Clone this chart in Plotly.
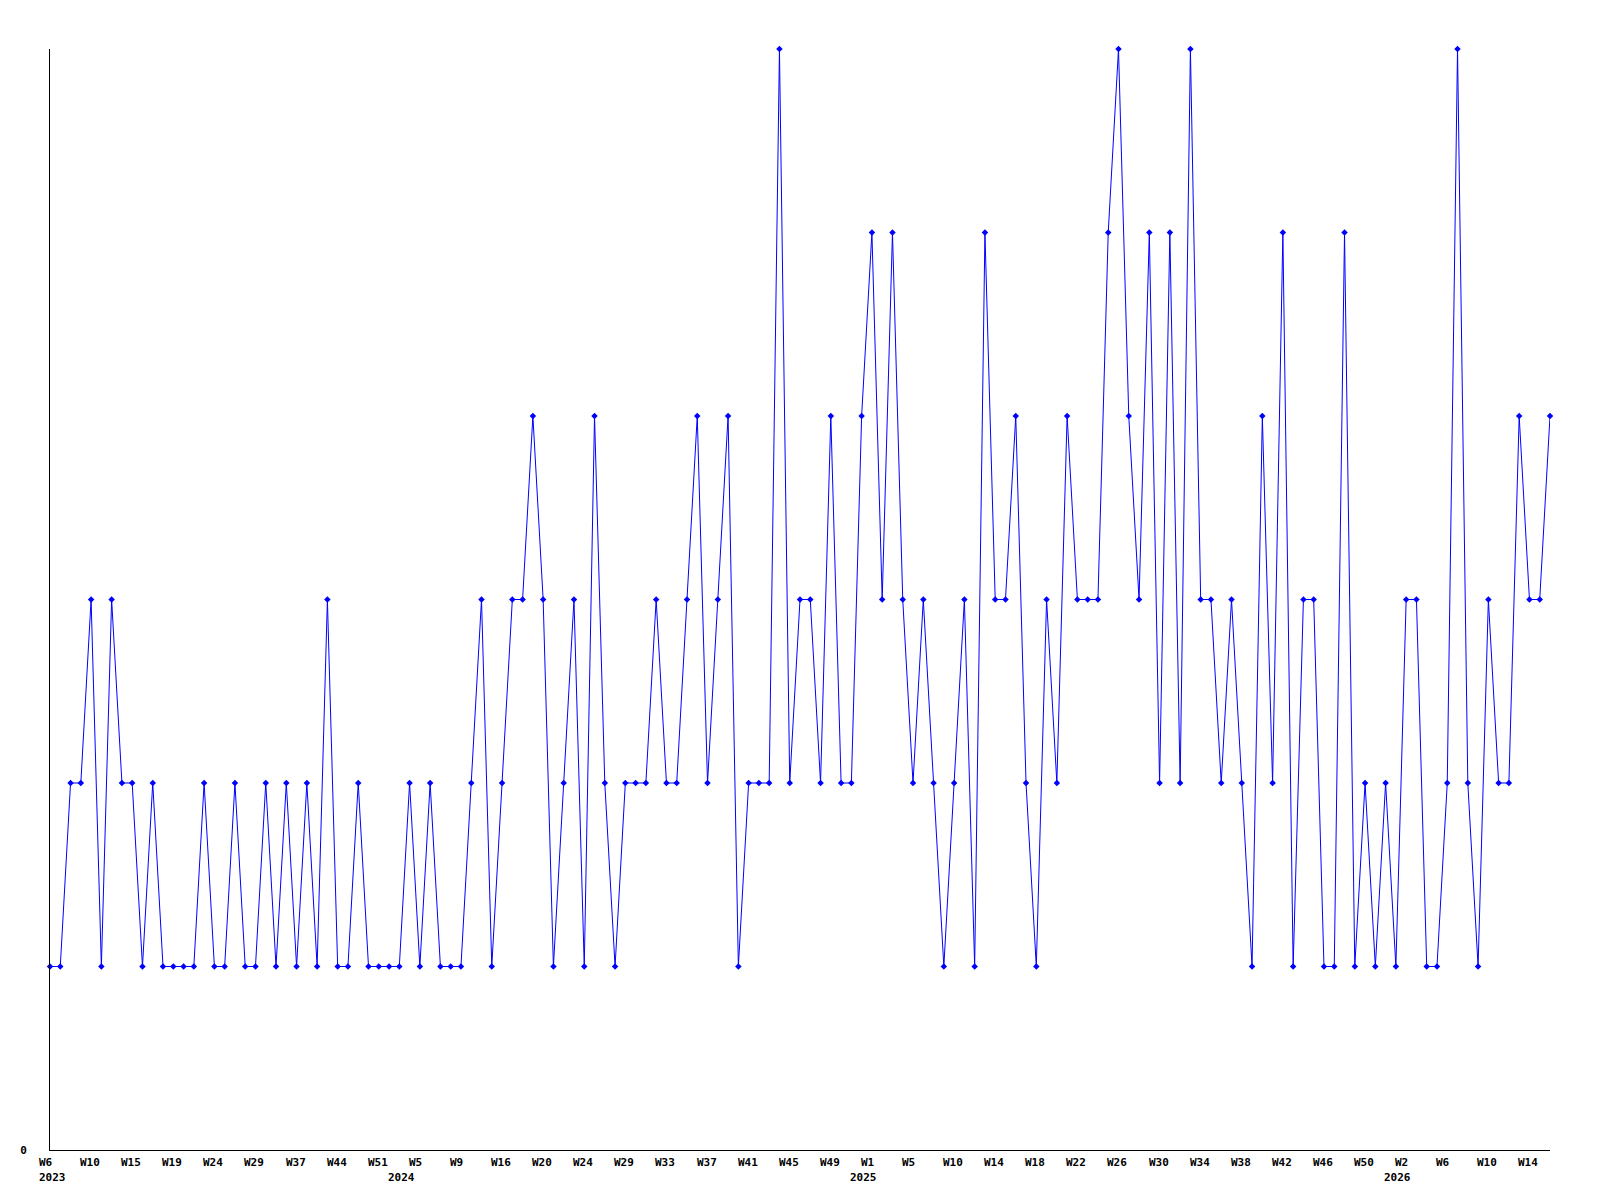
import plotly.graph_objects as go

# ISO weeks present in the data, per year
weeks_2023 = [6, 7, 8, 9, 10, 11, 12, 13, 15, 16, 17, 18, 19, 20, 21, 22, 24, 25, 26, 27,
              29, 30, 32, 35, 37, 38, 40, 42, 44, 45, 47, 49, 51, 52]
weeks_2024 = [2, 3, 5, 6, 7, 8, 9, 10, 12, 14] + list(range(16, 28)) + list(range(29, 53))
weeks_2025 = list(range(1, 9)) + list(range(10, 53))
weeks_2026 = list(range(1, 17))

values = [1, 1, 2, 2, 3, 1, 3, 2, 2, 1,
          2, 1, 1, 1, 1, 2, 1, 1, 2, 1,
          1, 2, 1, 2, 1, 2, 1, 3, 1, 1,
          2, 1, 1, 1, 1, 2, 1, 2, 1, 1,
          1, 2, 3, 1, 2, 3, 3, 4, 3, 1,
          2, 3, 1, 4, 2, 1, 2, 2, 2, 3,
          2, 2, 3, 4, 2, 3, 4, 1, 2, 2,
          2, 6, 2, 3, 3, 2, 4, 2, 2, 4,
          5, 3, 5, 3, 2, 3, 2, 1, 2, 3,
          1, 5, 3, 3, 4, 2, 1, 3, 2, 4,
          3, 3, 3, 5, 6, 4, 3, 5, 2, 5,
          2, 6, 3, 3, 2, 3, 2, 1, 4, 2,
          5, 1, 3, 3, 1, 1, 5, 1, 2, 1,
          2, 1, 3, 3, 1, 1, 2, 6, 2, 1,
          3, 2, 2, 4, 3, 3, 4]

year_weeks = [(2023, weeks_2023), (2024, weeks_2024), (2025, weeks_2025), (2026, weeks_2026)]
categories = []
week_nums = []
years = []
for yr, wl in year_weeks:
    for w in wl:
        categories.append(f"{yr}-W{w:02d}")
        week_nums.append(w)
        years.append(yr)

FONT = dict(family="DejaVu Sans Mono", size=11, color="black", weight="bold")
YEAR_SHIFT = {2023: -13, 2024: -34, 2025: -24, 2026: -24}

fig = go.Figure()
fig.add_trace(go.Scatter(
    x=categories, y=values, mode="lines+markers",
    line=dict(color="#0000FF", width=1),
    marker=dict(symbol="diamond", size=5, color="#0000FF"),
    cliponaxis=False, hoverinfo="x+y",
))

annotations = []
for i in range(0, len(categories), 4):
    annotations.append(dict(
        x=categories[i], y=0, xref="x", yref="paper",
        text=f"W{week_nums[i]}", showarrow=False,
        xanchor="left", yanchor="top", xshift=-13, yshift=-4, font=FONT,
    ))
# year labels under the first labelled week of each year
seen = set()
for i in range(0, len(categories), 4):
    if years[i] not in seen:
        seen.add(years[i])
        annotations.append(dict(
            x=categories[i], y=0, xref="x", yref="paper",
            text=str(years[i]), showarrow=False,
            xanchor="left", yanchor="top",
            xshift=YEAR_SHIFT[years[i]], yshift=-19, font=FONT,
        ))

# page body has an 8px margin, so the figure is sized to fit inside it
fig.update_layout(
    width=1584, height=1184,
    margin=dict(l=42, r=42, t=41, b=42),
    paper_bgcolor="white", plot_bgcolor="white",
    showlegend=False,
    annotations=annotations,
    xaxis=dict(
        type="category", categoryorder="array", categoryarray=categories,
        range=[0, len(categories) - 1],
        showticklabels=False, showgrid=False, zeroline=False,
        showline=True, linecolor="black", linewidth=1, ticks="",
    ),
    yaxis=dict(
        range=[0, 6], tickvals=[0], ticktext=["0"],
        showgrid=False, zeroline=False,
        showline=True, linecolor="black", linewidth=1, ticks="",
        tickfont=FONT, ticklabelstandoff=20,
    ),
)

fig.write_html("out.html")
